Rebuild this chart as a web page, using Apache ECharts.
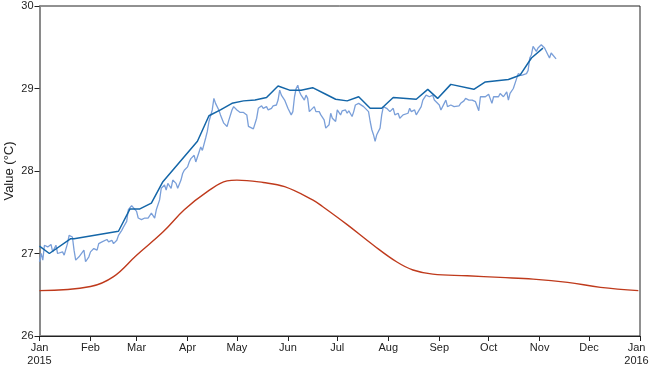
<!DOCTYPE html>
<html>
<head>
<meta charset="utf-8">
<script src="https://cdn.jsdelivr.net/npm/echarts@6/dist/echarts.min.js"></script>
<style>html,body{margin:0;padding:0;background:#fff}#c{width:650px;height:369px}</style>
</head>
<body>
<div id="c"></div>
<script>
var monthLabels = ['Jan','Feb','Mar','Apr','May','Jun','Jul','Aug','Sep','Oct','Nov','Dec'];
var yTicks = [26, 27, 28, 29, 30];

// daily series (day of 2015, value)
var dailyDays = [0,1,2,3,5,7,8,10,11,12,14,15,17,18,20,21,22,24,25,27,28,30,31,33,35,36,38,39,41,42,44,45,47,48,50,51,53,54,56,57,59,60,62,64,65,66,68,70,71,73,74,76,77,78,80,81,83,84,86,87,88,90,91,92,94,95,97,98,99,101,102,103,105,106,107,109,110,112,113,114,115,117,118,120,121,122,124,126,127,128,130,132,133,135,136,138,139,141,142,144,145,146,147,149,150,151,153,154,155,156,157,158,159,161,162,163,164,165,167,168,170,171,173,174,176,177,178,180,181,183,184,186,187,188,190,191,192,194,195,197,198,200,201,202,203,204,205,207,208,209,210,211,213,215,216,218,219,221,222,224,225,226,228,229,230,232,233,235,236,237,239,240,241,243,244,246,247,248,250,252,253,255,256,258,259,261,262,263,265,266,267,268,269,271,272,273,275,276,277,279,280,282,284,285,286,288,289,290,291,293,294,296,297,298,299,300,302,303,305,306,307,309,310,311,312,314];
var dailyVals = [26.90,27.00,26.92,27.10,27.08,27.11,27.02,27.10,27.00,26.98,27.02,26.98,27.12,27.22,27.20,27.04,26.92,26.96,26.98,27.04,26.90,26.96,27.02,27.06,27.04,27.12,27.14,27.12,27.17,27.14,27.16,27.12,27.16,27.22,27.28,27.32,27.39,27.53,27.58,27.59,27.51,27.43,27.41,27.43,27.41,27.43,27.49,27.43,27.53,27.65,27.79,27.83,27.77,27.85,27.79,27.89,27.85,27.79,27.89,27.97,28.01,28.05,28.11,28.15,28.19,28.11,28.23,28.29,28.25,28.40,28.48,28.60,28.74,28.88,28.82,28.74,28.68,28.58,28.60,28.54,28.61,28.74,28.78,28.74,28.76,28.71,28.71,28.68,28.54,28.52,28.51,28.64,28.76,28.79,28.76,28.78,28.74,28.76,28.79,28.80,28.86,28.98,28.92,28.86,28.86,28.76,28.68,28.72,28.90,29.00,29.04,28.96,28.92,28.86,28.92,28.88,28.72,28.70,28.78,28.72,28.72,28.68,28.62,28.52,28.56,28.70,28.64,28.60,28.74,28.68,28.73,28.74,28.70,28.73,28.66,28.72,28.80,28.82,28.80,28.78,28.76,28.72,28.60,28.50,28.44,28.36,28.44,28.52,28.68,28.78,28.80,28.76,28.72,28.76,28.68,28.70,28.64,28.68,28.66,28.70,28.76,28.72,28.74,28.68,28.68,28.78,28.86,28.92,28.94,28.90,28.92,28.86,28.84,28.80,28.74,28.82,28.86,28.78,28.80,28.78,28.80,28.79,28.82,28.85,28.88,28.86,28.88,28.86,28.84,28.82,28.73,28.90,28.92,28.90,28.91,28.93,28.82,28.90,28.92,28.90,28.94,28.90,28.96,28.86,28.94,29.00,28.98,29.12,29.18,29.16,29.18,29.18,29.22,29.37,29.41,29.51,29.45,29.49,29.53,29.54,29.49,29.41,29.37,29.43,29.41,29.36];

// weekly series
var weeklyDays = [0,6,19,21,48,55,61,68,75,96,103,110,117,124,131,138,145,152,159,166,174,180,187,194,201,208,215,229,236,242,250,264,271,285,292,299,306];
var weeklyVals = [27.09,27.00,27.18,27.18,27.27,27.54,27.54,27.61,27.87,28.36,28.67,28.74,28.82,28.85,28.86,28.89,29.03,28.98,28.98,29.01,28.93,28.87,28.85,28.90,28.76,28.76,28.89,28.87,28.99,28.88,29.05,28.99,29.08,29.11,29.16,29.37,29.49];

// climatology
var climDays = [0,31,45,59,75,88,102,114,120,136,149,166,172,187,203,217,227,239,260,280,300,321,341,364];
var climVals = [26.55,26.60,26.72,26.98,27.26,27.53,27.75,27.88,27.89,27.86,27.81,27.65,27.57,27.35,27.10,26.90,26.80,26.75,26.73,26.71,26.69,26.65,26.59,26.55];

function ts(d){ return new Date(2015, 0, 1 + d).getTime(); }
function pairs(days, vals){ return days.map(function(d,i){ return [ts(d), vals[i]]; }); }
var monthTicks = [];
for (var m = 0; m <= 12; m++) monthTicks.push(new Date(2015, m, 1).getTime());

var FONT = '"Liberation Sans",sans-serif';
var chart = echarts.init(document.getElementById('c'), null, {renderer:'canvas'});
chart.setOption({
  animation: false,
  grid: {left: 39.5, right: 10, top: 6, bottom: 33, show: true, borderColor: '#222', borderWidth: 1, containLabel: false, outerBoundsMode: 'none'},
  xAxis: {
    type: 'value', scale: true,
    min: monthTicks[0], max: monthTicks[12],
    axisLine: {show: true, lineStyle: {color: '#222', width: 1}},
    axisTick: {show: true, customValues: monthTicks, length: 5, lineStyle: {color: '#222'}},
    axisLabel: {
      customValues: monthTicks, color: '#222', fontFamily: FONT, fontSize: 11, margin: 5, lineHeight: 13,
      hideOverlap: false, showMinLabel: true, showMaxLabel: true,
      formatter: function(v){
        var d = new Date(v);
        var s = monthLabels[d.getMonth()];
        if (d.getMonth() === 0) {
          if (d.getFullYear() > 2015) return '{e|' + s + '}\n{e|' + d.getFullYear() + '}';
          return s + '\n' + d.getFullYear();
        }
        return s;
      },
      rich: {e: {fontFamily: FONT, fontSize: 11, color: '#222', lineHeight: 13, padding: [0, 7, 0, 0]}}
    },
    splitLine: {show: false}
  },
  yAxis: {
    type: 'value', min: 26, max: 30, interval: 1,
    name: 'Value (°C)', nameLocation: 'middle', nameGap: 24, nameRotate: 90, nameMoveOverlap: false,
    nameTextStyle: {color: '#222', fontFamily: FONT, fontSize: 13},
    axisLine: {show: true, lineStyle: {color: '#8a8a8a', width: 2}},
    axisTick: {show: true, length: 5, lineStyle: {color: '#222'}},
    axisLabel: {color: '#222', fontFamily: FONT, fontSize: 11, margin: 6, formatter: function(v){ return yTicks.indexOf(v) >= 0 ? String(v) : ''; }},
    splitLine: {show: false}
  },
  series: [
    {type: 'line', data: pairs(climDays, climVals), smooth: 0.4, showSymbol: false, lineStyle: {color: '#bf3a1c', width: 1.4}, z: 2},
    {type: 'line', data: pairs(dailyDays, dailyVals), showSymbol: false, lineStyle: {color: '#7a9fd9', width: 1.3}, z: 3},
    {type: 'line', data: pairs(weeklyDays, weeklyVals), showSymbol: false, lineStyle: {color: '#1466a8', width: 1.5}, z: 4}
  ]
});
</script>
</body>
</html>
